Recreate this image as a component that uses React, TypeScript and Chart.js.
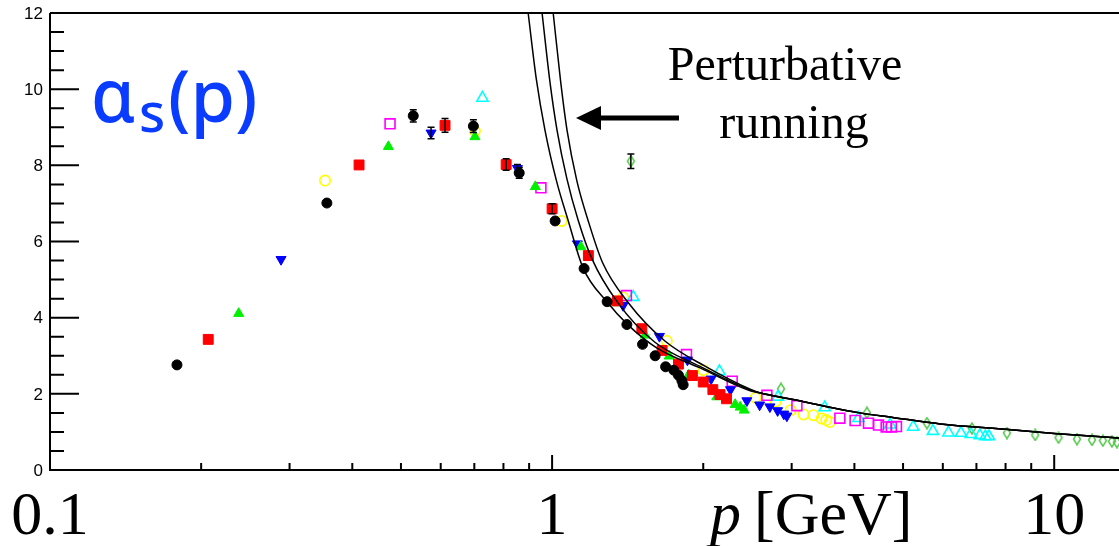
import React, { useEffect, useRef } from 'react';
import { Chart, registerables } from 'chart.js';

Chart.register(...registerables);

// ---------- data (p in GeV, alpha_s) ----------
const blackP = [0.179, 0.356, 0.529, 0.697, 0.86, 1.014, 1.158, 1.287, 1.409, 1.514, 1.604, 1.683, 1.748, 1.785, 1.813, 1.824];
const blackA = [2.76, 7.01, 9.3, 9.03, 7.8, 6.54, 5.29, 4.42, 3.82, 3.3, 3.0, 2.71, 2.62, 2.49, 2.35, 2.24];
const blackErr = [0, 0, 0.16, 0.17, 0.14, 0, 0, 0, 0, 0, 0, 0, 0, 0, 0, 0];

const redP = [0.2066, 0.4126, 0.612, 0.81, 1.0, 1.181, 1.349, 1.509, 1.656, 1.785, 1.903, 2.0, 2.09, 2.16, 2.225];
const redA = [3.43, 8.01, 9.05, 8.02, 6.86, 5.63, 4.44, 3.71, 3.14, 2.78, 2.48, 2.31, 2.11, 1.98, 1.87];
const redErr = [0, 0, 0.18, 0.15, 0.13, 0, 0, 0, 0, 0, 0, 0, 0, 0, 0];

const greenP = [0.2376, 0.472, 0.702, 0.926, 1.141, 1.335, 1.532, 1.711, 1.869, 2.128, 2.315, 2.369, 2.413];
const greenA = [4.11, 8.49, 8.75, 7.44, 5.86, 4.39, 3.54, 2.99, 2.49, 1.92, 1.72, 1.65, 1.57];

const blueP = [0.2885, 0.574, 0.853, 1.123, 1.385, 1.636, 1.86, 2.073, 2.266, 2.443, 2.59, 2.715, 2.813, 2.894, 2.935];
const blueA = [5.53, 8.85, 7.92, 5.94, 4.32, 3.51, 2.89, 2.39, 2.11, 1.82, 1.71, 1.66, 1.56, 1.47, 1.42];
const blueErr = [0, 0.15, 0.1, 0, 0, 0, 0, 0, 0, 0, 0, 0, 0, 0, 0];

const yellowP = [0.353, 0.702, 1.045, 1.385, 1.692, 2.001, 2.543, 2.787, 2.987, 3.168, 3.315, 3.442, 3.514, 3.574];
const yellowA = [7.6, 8.9, 6.54, 4.53, 3.39, 2.62, 1.9, 1.8, 1.57, 1.46, 1.44, 1.35, 1.31, 1.26];

const magentaP = [0.4756, 0.95, 1.406, 1.852, 2.284, 2.678, 3.073, 3.742, 4.013, 4.267, 4.467, 4.627, 4.739, 4.851];
const magentaA = [9.09, 7.41, 4.58, 3.03, 2.33, 1.96, 1.69, 1.36, 1.3, 1.23, 1.18, 1.13, 1.13, 1.14];

const cyanP = [0.7265, 1.451, 2.154, 2.817, 3.491, 4.075, 4.713, 5.238, 5.734, 6.157, 6.52, 6.826, 7.11, 7.29, 7.415];
const cyanA = [9.77, 4.54, 2.59, 1.92, 1.64, 1.36, 1.19, 1.13, 1.02, 0.98, 0.97, 0.94, 0.91, 0.88, 0.88];

const diamondP = [1.435, 2.856, 4.236, 5.578, 6.856, 8.05, 9.167, 10.2, 11.1, 11.89, 12.5, 13.03, 13.33];
const diamondA = [8.11, 2.13, 1.5, 1.23, 1.09, 0.97, 0.92, 0.85, 0.81, 0.79, 0.77, 0.75, 0.73];
const diamondErr = [0.19, 0, 0, 0, 0, 0, 0, 0, 0, 0, 0, 0, 0];

// perturbative running curves (three), sharing a common tail
const curveAP = [0.896, 0.93, 0.968, 1.02, 1.076, 1.153, 1.287, 1.411, 1.618, 1.971, 2.48];
const curveAA = [12, 10.27, 8.92, 7.6, 6.56, 5.3, 4.41, 3.83, 3.2, 2.68, 2.08];
const curveBP = [0.955, 0.99, 1.023, 1.07, 1.127, 1.2, 1.347, 1.6, 1.971, 2.48];
const curveBA = [12, 10.2, 8.92, 7.65, 6.56, 5.55, 4.42, 3.36, 2.72, 2.1];
const curveCP = [1.005, 1.04, 1.071, 1.12, 1.179, 1.26, 1.417, 1.68, 2.02, 2.48];
const curveCA = [12, 10.2, 8.92, 7.6, 6.56, 5.45, 4.4, 3.38, 2.72, 2.12];
const tailP = [2.6, 3.02, 3.53, 4.1, 4.77, 5.93, 8.0, 10.0, 13.46];
const tailA = [2.02, 1.85, 1.66, 1.5, 1.38, 1.21, 1.07, 0.96, 0.84];

// axes
const xMin = 0.1;
const xMax = 13.46;
const yMin = 0;
const yMax = 12;
const xMajorTicks = [0.1, 1, 10];
const xMajorLabels = ['0.1', '1', '10'];
const xMinorTicks = [0.2, 0.3, 0.4, 0.5, 0.6, 0.7, 0.8, 0.9, 2, 3, 4, 5, 6, 7, 8, 9];
const yMajorTicks = [0, 2, 4, 6, 8, 10, 12];
const yMinorTicks = [0.5, 1, 1.5, 2.5, 3, 3.5, 4.5, 5, 5.5, 6.5, 7, 7.5, 8.5, 9, 9.5, 10.5, 11, 11.5];

const pts = (xs: number[], ys: number[]) => xs.map((x, i) => ({ x, y: ys[i] }));

function makeDiamond(color: string): HTMLCanvasElement {
  const c = document.createElement('canvas');
  c.width = 10;
  c.height = 13;
  const g = c.getContext('2d')!;
  g.strokeStyle = color;
  g.lineWidth = 1.5;
  g.beginPath();
  g.moveTo(5, 1);
  g.lineTo(8.5, 6.5);
  g.lineTo(5, 12);
  g.lineTo(1.5, 6.5);
  g.closePath();
  g.stroke();
  return c;
}

const decorPlugin = {
  id: 'decor',
  afterDatasetsDraw(chart: any) {
    const ctx = chart.ctx;
    const xs = chart.scales.x;
    const ys = chart.scales.y;
    ctx.save();
    ctx.strokeStyle = '#000';
    ctx.lineWidth = 1.5;
    chart.data.datasets.forEach((ds: any) => {
      if (!ds.errs) return;
      ds.data.forEach((d: any, j: number) => {
        const e = ds.errs[j];
        if (!e) return;
        const px = xs.getPixelForValue(d.x);
        const y1 = ys.getPixelForValue(d.y + e);
        const y2 = ys.getPixelForValue(d.y - e);
        ctx.beginPath();
        ctx.moveTo(px, y1);
        ctx.lineTo(px, y2);
        ctx.moveTo(px - 3.5, y1);
        ctx.lineTo(px + 3.5, y1);
        ctx.moveTo(px - 3.5, y2);
        ctx.lineTo(px + 3.5, y2);
        ctx.stroke();
      });
    });
    ctx.restore();
  },
  afterDraw(chart: any) {
    const ctx = chart.ctx;
    const xs = chart.scales.x;
    const ys = chart.scales.y;
    const a = chart.chartArea;
    ctx.save();
    ctx.strokeStyle = '#000';
    ctx.lineWidth = 2;
    // frame: left, bottom, top
    ctx.beginPath();
    ctx.moveTo(a.left, a.top);
    ctx.lineTo(a.left, a.bottom);
    ctx.lineTo(a.right, a.bottom);
    ctx.moveTo(a.left, a.top);
    ctx.lineTo(a.right, a.top);
    ctx.stroke();
    // y ticks
    ctx.beginPath();
    yMajorTicks.forEach((v) => {
      const py = ys.getPixelForValue(v);
      ctx.moveTo(a.left, py);
      ctx.lineTo(a.left + 29, py);
    });
    yMinorTicks.forEach((v) => {
      const py = ys.getPixelForValue(v);
      ctx.moveTo(a.left, py);
      ctx.lineTo(a.left + 14, py);
    });
    // x ticks
    xMajorTicks.forEach((v) => {
      const px = xs.getPixelForValue(v);
      ctx.moveTo(px, a.bottom);
      ctx.lineTo(px, a.bottom - 15);
    });
    xMinorTicks.forEach((v) => {
      const px = xs.getPixelForValue(v);
      ctx.moveTo(px, a.bottom);
      ctx.lineTo(px, a.bottom - 7);
    });
    ctx.stroke();

    // y labels
    ctx.fillStyle = '#000';
    ctx.font = '17px "Liberation Sans", Arial, sans-serif';
    ctx.textAlign = 'right';
    ctx.textBaseline = 'middle';
    yMajorTicks.forEach((v) => {
      ctx.fillText(String(v), a.left - 7, ys.getPixelForValue(v) + 1);
    });

    // x labels
    ctx.font = '62px "Liberation Serif", "Times New Roman", serif';
    ctx.textAlign = 'center';
    ctx.textBaseline = 'alphabetic';
    xMajorTicks.forEach((v, i) => {
      ctx.fillText(xMajorLabels[i], xs.getPixelForValue(v), 534);
    });
    // axis title
    ctx.textAlign = 'left';
    ctx.font = 'italic 62px "Liberation Serif", "Times New Roman", serif';
    ctx.fillText('p', 710, 534);
    ctx.font = '62px "Liberation Serif", "Times New Roman", serif';
    ctx.fillText('[GeV]', 754, 534);

    // alpha_s(p) label
    ctx.fillStyle = '#0a3cff';
    ctx.save();
    ctx.translate(91, 122);
    ctx.scale(0.95, 1);
    ctx.font = '500 74px "Noto Sans", "Open Sans", sans-serif';
    ctx.fillText('α', 0, 0);
    ctx.restore();
    ctx.font = '500 54px "Noto Sans", "Open Sans", sans-serif';
    ctx.fillText('s', 139, 132);
    ctx.font = '500 72px "Noto Sans", "Open Sans", sans-serif';
    ctx.fillText('(p)', 168, 122);

    // Perturbative running
    ctx.fillStyle = '#000';
    ctx.font = '48px "Liberation Serif", "Times New Roman", serif';
    ctx.textAlign = 'center';
    ctx.fillText('Perturbative', 785, 80);
    ctx.fillText('running', 794, 138);

    // arrow
    ctx.lineWidth = 5;
    ctx.beginPath();
    ctx.moveTo(679, 118);
    ctx.lineTo(598, 118);
    ctx.stroke();
    ctx.beginPath();
    ctx.moveTo(576, 118);
    ctx.lineTo(601, 106);
    ctx.lineTo(601, 130);
    ctx.closePath();
    ctx.fill();
    ctx.restore();
  },
};

export default function App() {
  const ref = useRef<HTMLCanvasElement>(null);
  useEffect(() => {
    if (!ref.current) return;
    const diamond = makeDiamond('#55c84a');
    const curveStyle = {
      showLine: true,
      borderColor: '#000',
      borderWidth: 1.5,
      pointRadius: 0,
      pointHoverRadius: 0,
      cubicInterpolationMode: 'monotone' as const,
      fill: false,
      clip: 0,
      order: 0,
    };
    const chart = new Chart(ref.current, {
      type: 'scatter',
      data: {
        datasets: [
          { label: 'curveA', data: pts(curveAP.concat(tailP), curveAA.concat(tailA)), ...curveStyle },
          { label: 'curveB', data: pts(curveBP.concat(tailP), curveBA.concat(tailA)), ...curveStyle },
          { label: 'curveC', data: pts(curveCP.concat(tailP), curveCA.concat(tailA)), ...curveStyle },
          {
            label: 'black', data: pts(blackP, blackA), errs: blackErr, order: 1,
            pointStyle: 'circle', pointRadius: 5, backgroundColor: '#000', borderColor: '#000', borderWidth: 1,
          } as any,
          {
            label: 'red', data: pts(redP, redA), errs: redErr, order: 2,
            pointStyle: 'rect', pointRadius: 7, backgroundColor: '#ff0000', borderColor: '#ff0000', borderWidth: 1,
          } as any,
          {
            label: 'green', data: pts(greenP, greenA), order: 3,
            pointStyle: 'triangle', pointRadius: 5.8, backgroundColor: '#00f000', borderColor: '#00f000', borderWidth: 1,
          } as any,
          {
            label: 'blue', data: pts(blueP, blueA), errs: blueErr, order: 4,
            pointStyle: 'triangle', rotation: 180, pointRotation: 180, pointRadius: 5.8,
            backgroundColor: '#0000ff', borderColor: '#0000ff', borderWidth: 1,
          } as any,
          {
            label: 'magenta', data: pts(magentaP, magentaA), order: 5,
            pointStyle: 'rect', pointRadius: 7, backgroundColor: 'rgba(0,0,0,0)', borderColor: '#ff00ff', borderWidth: 1.6,
          } as any,
          {
            label: 'cyan', data: pts(cyanP, cyanA), order: 6,
            pointStyle: 'triangle', pointRadius: 6.5, backgroundColor: 'rgba(0,0,0,0)', borderColor: '#00ffff', borderWidth: 1.6,
          } as any,
          {
            label: 'yellow', data: pts(yellowP, yellowA), order: 7,
            pointStyle: 'circle', pointRadius: 5.2, backgroundColor: 'rgba(0,0,0,0)', borderColor: '#ffff00', borderWidth: 1.6,
          } as any,
          {
            label: 'diamond', data: pts(diamondP, diamondA), errs: diamondErr, order: 8,
            pointStyle: diamond, pointRadius: 6,
          } as any,
        ],
      },
      options: {
        responsive: false,
        devicePixelRatio: 1,
        animation: false,
        events: [],
        layout: { autoPadding: false, padding: { left: 50, right: 0, top: 13, bottom: 76 } },
        plugins: { legend: { display: false }, tooltip: { enabled: false } },
        scales: {
          x: { type: 'logarithmic', min: xMin, max: xMax, display: false },
          y: { type: 'linear', min: yMin, max: yMax, display: false },
        },
      },
      plugins: [decorPlugin],
    });
    return () => chart.destroy();
  }, []);
  return (
    <div style={{ position: 'fixed', left: 0, top: 0, width: 1119, height: 546, background: '#fff' }}>
      <canvas ref={ref} width={1119} height={546} style={{ display: 'block' }} />
    </div>
  );
}
